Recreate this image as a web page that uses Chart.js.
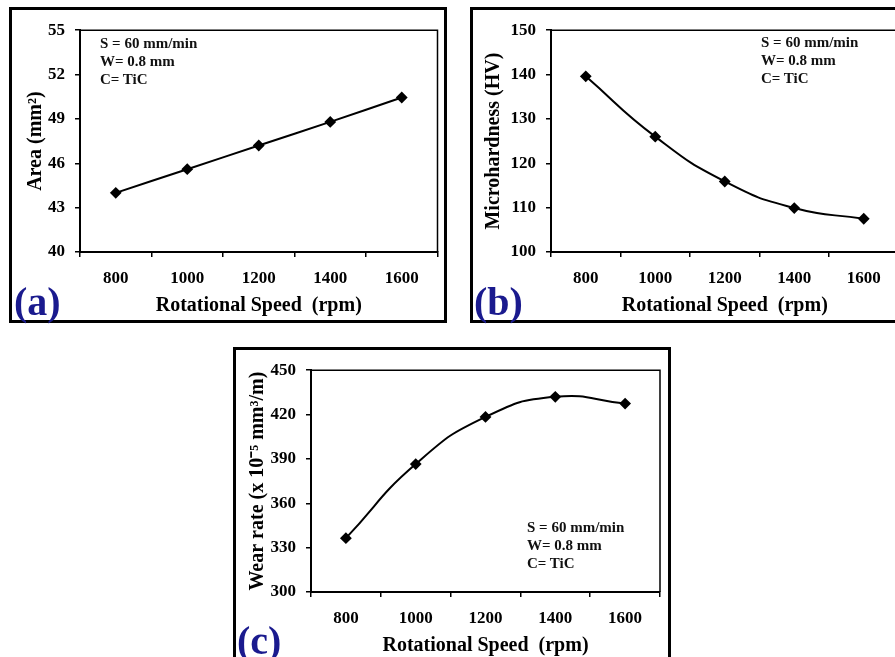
<!DOCTYPE html>
<html>
<head>
<meta charset="utf-8">
<script src="https://cdn.jsdelivr.net/npm/chart.js@4.4.1/dist/chart.umd.min.js"></script>
<style>
  html, body { margin: 0; padding: 0; background: #fff; }
  body { width: 895px; height: 657px; overflow: hidden; position: relative; }
  .box { position: absolute; border: 3px solid #000; box-sizing: border-box; background: #fff; }
  canvas { position: absolute; }
  .note { position: absolute; font-family: 'Liberation Serif', 'Times New Roman', serif; font-weight: bold; font-size: 15px; line-height: 18px; color: #111; white-space: nowrap; }
  .tag { position: absolute; font-family: 'Liberation Serif', 'Times New Roman', serif; font-weight: bold; font-size: 40px; line-height: 40px; color: #1a1a8e; }
</style>
</head>
<body>
<div class="box" style="left:9px;top:7px;width:438px;height:316px;"></div>
<div class="box" style="left:470px;top:7px;width:440px;height:316px;"></div>
<div class="box" style="left:233px;top:347px;width:438px;height:316px;"></div>

<canvas id="chartA" width="432" height="310" style="left:12px;top:10px;"></canvas>
<canvas id="chartB" width="432" height="310" style="left:473px;top:10px;"></canvas>
<canvas id="chartC" width="432" height="310" style="left:236px;top:350px;"></canvas>

<div class="note" style="left:100px;top:34px;">S = 60 mm/min<br>W= 0.8 mm<br>C= TiC</div>
<div class="note" style="left:761px;top:33px;">S = 60 mm/min<br>W= 0.8 mm<br>C= TiC</div>
<div class="note" style="left:527px;top:518px;">S = 60 mm/min<br>W= 0.8 mm<br>C= TiC</div>

<div class="tag" style="left:14px;top:282px;">(a)</div>
<div class="tag" style="left:474px;top:282px;">(b)</div>
<div class="tag" style="left:237px;top:621px;">(c)</div>

<script>
// ---- data ----
const speeds = ['800', '1000', '1200', '1400', '1600'];
const areaValues = [44.0, 45.6, 47.2, 48.8, 50.45];
const hardnessValues = [139.6, 126.0, 115.9, 109.9, 107.5];
const wearValues = [336.4, 386.5, 418.4, 432.0, 427.4];

const areaTicks = [40, 43, 46, 49, 52, 55];
const hardnessTicks = [100, 110, 120, 130, 140, 150];
const wearTicks = [300, 330, 360, 390, 420, 450];

const xTitle = 'Rotational Speed  (rpm)';
const areaTitle = 'Area (mm²)';
const hardnessTitle = 'Microhardness (HV)';
const wearTitle = 'Wear rate (x 10⁻⁵ mm³/m)';

// ---- styling ----
const FONT = "'Liberation Serif', 'Times New Roman', serif";
Chart.defaults.font.family = FONT;
Chart.defaults.font.weight = 'bold';
Chart.defaults.color = '#000';

const framePlugin = {
  id: 'frame',
  afterDraw(chart) {
    const {ctx, chartArea: a} = chart;
    ctx.save();
    ctx.strokeStyle = '#000';
    ctx.lineWidth = 1.5;
    ctx.beginPath();
    ctx.moveTo(a.left, a.top);
    ctx.lineTo(a.right, a.top);
    ctx.lineTo(a.right, a.bottom);
    ctx.stroke();
    ctx.restore();
  }
};

function makeChart(id, values, majors, yTitle, cfg) {
  const minors = [];
  for (let i = 0; i < majors.length; i++) {
    minors.push(majors[i]);
    if (i < majors.length - 1) minors.push((majors[i] + majors[i + 1]) / 2);
  }
  return new Chart(document.getElementById(id), {
    type: 'line',
    data: {
      labels: speeds,
      datasets: [{
        data: values,
        borderColor: '#000',
        backgroundColor: '#000',
        borderWidth: 2,
        tension: cfg.tension,
        pointStyle: 'rectRot',
        pointRadius: 4.5,
        pointBackgroundColor: '#000',
        pointBorderColor: '#000',
        fill: false,
        clip: false
      }]
    },
    options: {
      responsive: false,
      animation: false,
      devicePixelRatio: 1,
      layout: { padding: { top: 13, right: cfg.right, left: 0, bottom: 0 } },
      plugins: { legend: { display: false }, tooltip: { enabled: false } },
      scales: {
        x: {
          type: 'category',
          offset: true,
          grid: { display: true, offset: true, drawOnChartArea: false, drawTicks: true, tickLength: 5, color: '#000', lineWidth: 1.5 },
          border: { display: true, color: '#000', width: 2 },
          ticks: { font: { size: 17, weight: 'bold' }, padding: 11, color: '#000', maxRotation: 0 },
          title: { display: true, text: xTitle, font: { size: 20, weight: 'bold' }, color: '#000', padding: { top: 0, bottom: 2 } },
          afterFit(scale) { scale.height = 68; }
        },
        y: {
          min: majors[0],
          max: majors[majors.length - 1],
          grid: { display: true, drawOnChartArea: false, drawTicks: true, tickLength: 5, color: '#000', lineWidth: 1.5 },
          border: { display: true, color: '#000', width: 2 },
          afterBuildTicks(scale) { scale.ticks = minors.map(v => ({ value: v })); },
          ticks: {
            font: { size: 17, weight: 'bold' },
            padding: 10,
            color: '#000',
            callback: (v) => majors.some(m => Math.abs(m - v) < 1e-9) ? String(v) : ''
          },
          title: { display: true, text: yTitle, font: { size: 20, weight: 'bold' }, color: '#000', padding: { top: cfg.yTitlePad, bottom: 0 } },
          afterFit(scale) { scale.width = cfg.yWidth; }
        }
      }
    },
    plugins: [framePlugin]
  });
}

makeChart('chartA', areaValues, areaTicks, areaTitle, { tension: 0.4, right: 6, yWidth: 68, yTitlePad: 12 });
makeChart('chartB', hardnessValues, hardnessTicks, hardnessTitle, { tension: 0.5, right: 6, yWidth: 78, yTitlePad: 9 });
makeChart('chartC', wearValues, wearTicks, wearTitle, { tension: 0.5, right: 8, yWidth: 75, yTitlePad: 10 });
</script>
</body>
</html>
